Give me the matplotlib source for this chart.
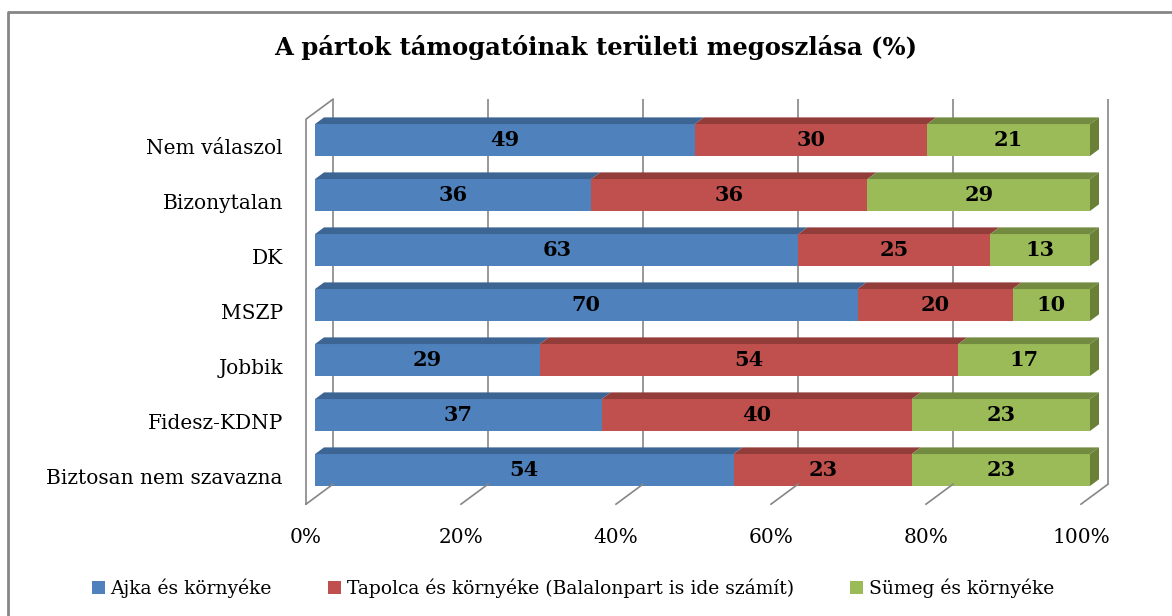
import matplotlib
matplotlib.use("Agg")
import matplotlib.pyplot as plt
from matplotlib.patches import Polygon, Patch
from matplotlib.lines import Line2D
from matplotlib.transforms import ScaledTranslation

plt.rcParams["font.family"] = ["DejaVu Serif"]

# data (bottom row first)
categories = ["Biztosan nem szavazna", "Fidesz-KDNP", "Jobbik", "MSZP", "DK",
              "Bizonytalan", "Nem válaszol"]
ajka = [54, 37, 29, 70, 63, 36, 49]
tapolca = [23, 40, 54, 20, 25, 36, 30]
sumeg = [23, 23, 17, 10, 13, 29, 21]
series_names = ["Ajka és környéke",
                "Tapolca és környéke (Balalonpart is ide számít)",
                "Sümeg és környéke"]
xticks = [0, 20, 40, 60, 80, 100]

front_cols = ["#4F81BD", "#C0504D", "#9BBB59"]
top_cols = ["#3D6594", "#933D3B", "#728B40"]
side_col = "#6A8036"
grid_col = "#868686"

W, H = 1172, 616
fig = plt.figure(figsize=(W / 100, H / 100), dpi=100)
ax = fig.add_axes([315 / W, 1 - 497.5 / H, 775 / W, 385 / H])
ax.set_xlim(0, 100)
ax.set_ylim(-0.5, 6.5)
ax.axis("off")

SLOPE = 0.74


def depth(d, dx=0, dy=0):
    # shift by depth d (pixels) plus an extra pixel offset
    return ax.transData + ScaledTranslation((d + dx) / 100, (d * SLOPE - dy) / 100,
                                            fig.dpi_scale_trans)


def to_fig(pts):
    return [(p[0] / W, p[1] / H) for p in pts]


D_FRONT, D_BACK = -9, 18
BAR_D = 9
bar_h = 0.58

# back wall gridlines
for x in xticks:
    ax.plot([x, x], [-0.5, 6.5], color=grid_col, lw=1.2, transform=depth(D_BACK),
            clip_on=False, zorder=1, solid_capstyle="butt")
# floor lines
for x in xticks:
    p0 = depth(D_FRONT).transform((x, -0.5))
    p1 = depth(D_BACK).transform((x, -0.5))
    fig.add_artist(Line2D([p0[0] / W, p1[0] / W], [p0[1] / H, p1[1] / H],
                          color=grid_col, lw=1.2, zorder=1))
# left wall
p_fb = depth(D_FRONT).transform((0, -0.5))
p_ft = depth(D_FRONT).transform((0, 6.5))
p_bt = depth(D_BACK).transform((0, 6.5))
fig.add_artist(Line2D([p_fb[0] / W, p_ft[0] / W, p_bt[0] / W],
                      [p_fb[1] / H, p_ft[1] / H, p_bt[1] / H],
                      color=grid_col, lw=1.2, zorder=1))

# bars (100% stacked: each row scaled to its total)
series = [ajka, tapolca, sumeg]
totals = [sum(t) for t in zip(*series)]
ys = list(range(len(categories)))
lefts = [0.0] * len(categories)
for k, vals in enumerate(series):
    widths = [v / t * 100 for v, t in zip(vals, totals)]
    ax.barh(ys, widths, left=lefts, height=bar_h, color=front_cols[k],
            edgecolor="none", zorder=3)
    for i, (v, w) in enumerate(zip(vals, widths)):
        l, r, top = lefts[i], lefts[i] + w, i + bar_h / 2
        pts = [ax.transData.transform((l, top)), ax.transData.transform((r, top)),
               depth(BAR_D).transform((r, top)), depth(BAR_D).transform((l, top))]
        fig.add_artist(Polygon(to_fig(pts), closed=True, facecolor=top_cols[k],
                               edgecolor="none", zorder=4))
        ax.text(l + w / 2, i, str(v), ha="center", va="center", fontsize=15,
                fontweight="bold", color="black", zorder=6)
        if k == len(series) - 1:
            bot = i - bar_h / 2
            pts = [ax.transData.transform((r, bot)), ax.transData.transform((r, top)),
                   depth(BAR_D).transform((r, top)), depth(BAR_D).transform((r, bot))]
            fig.add_artist(Polygon(to_fig(pts), closed=True, facecolor=side_col,
                                   edgecolor="none", zorder=4))
    lefts = [a + b for a, b in zip(lefts, widths)]

# category labels
for i, c in enumerate(categories):
    ax.text(0, i, c, ha="right", va="center", fontsize=14.5,
            transform=depth(D_FRONT, dx=-23, dy=2), clip_on=False)

# tick labels
for x in xticks:
    ax.text(x, -0.5, f"{x}%", ha="center", va="center", fontsize=14.5,
            transform=depth(D_FRONT, dx=0, dy=33), clip_on=False)

# title
fig.text(596 / W, 1 - 48 / H, "A pártok támogatóinak területi megoszlása (%)",
         ha="center", va="center", fontsize=17.5, fontweight="bold")

# chart border
fig.add_artist(Line2D([8 / W, 8 / W, 1], [0, 1 - 12 / H, 1 - 12 / H],
                      color=grid_col, lw=2))

# legend
handles = [Patch(facecolor=c, edgecolor="none") for c in front_cols]
fig.legend(handles, series_names, loc="center", bbox_to_anchor=(573 / W, 1 - 588 / H),
           ncol=3, frameon=False, fontsize=13.5, handlelength=0.7, handleheight=0.7,
           handletextpad=0.3, columnspacing=3.0)

fig.savefig("out.png", dpi=100)
